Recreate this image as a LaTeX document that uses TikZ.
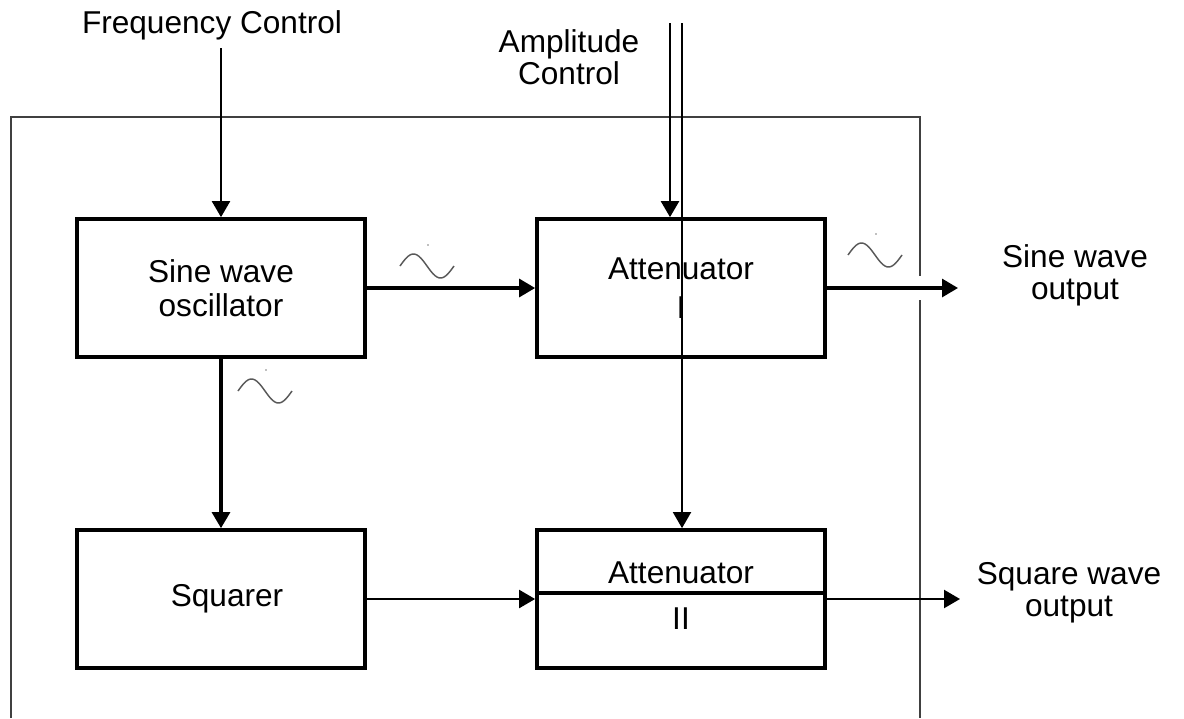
\documentclass[tikz,border=0pt]{standalone}
\usepackage{fontspec}
\setmainfont{Liberation Sans}
\usetikzlibrary{arrows.meta}
\tikzset{
  blk/.style={draw,line width=2.8pt,minimum width=216pt,minimum height=103.5pt,align=center,font=\fontsize{23.7}{25.5}\selectfont},
  lbl/.style={align=center,font=\fontsize{23.7}{24}\selectfont},
  arr/.style={line width=2.3pt,-{Triangle[length=12pt,width=13.5pt]}},
  tarr/.style={line width=1.4pt,-{Triangle[length=12pt,width=13.5pt]}},
  frm/.style={line width=1.8pt,black!75},
  sinewave/.pic={\draw[gray!70!black,line width=1.1pt] plot[domain=0:360,samples=40] (\x/360*54-27,{-12*sin(\x)}); \fill[gray] (1,-21) circle (.8);}
}
\begin{document}
\begin{tikzpicture}[x=.75pt,y=-.75pt]
\useasboundingbox (0,0) rectangle (1184,718);
\draw[frm] (11,718)--(11,117)--(920,117)--(920,276); \draw[frm] (920,300)--(920,718);
\node[blk] (osc) at (221,288) {Sine wave\\oscillator};
\node[blk,font=\fontsize{23.7}{29}\selectfont] (att1) at (681,288) {Attenuator\\I};
\node[blk] (sq) at (221,599) {\hspace*{9pt}Squarer};
\node[blk] (att2) at (681,599) {};
\draw[line width=2.8pt] ([yshift=4.5pt]att2.west)--([yshift=4.5pt]att2.east);
\node[lbl] (att2a) at (681,573) {Attenuator}; \node[lbl] (att2b) at (681,619) {II};
\node[lbl] (freq) at (212,25) {Frequency Control};
\node[lbl] (amp) at (569,57) {Amplitude\\Control};
\coordinate (fin) at (221,48); \coordinate (ampA) at (670,23); \coordinate (ampB) at (682,23);
\draw[tarr,line width=1.7pt] (fin)--(osc.north);
\draw[tarr,line width=1.8pt] (ampA)--(ampA |- att1.north);
\draw[tarr] (ampB)--(ampB |- att2.north);
\draw[arr] (osc.east)--(att1.west);
\draw[arr] (osc.south)--(sq.north);
\draw[tarr,line width=1.7pt] (sq.east)--(att2.west);
\coordinate (sout) at (958,288); \coordinate (qout) at (960,599);
\draw[arr] (att1.east)--(sout); \draw[tarr,line width=1.7pt] (att2.east)--(qout);
\node[lbl] (sinelbl) at (1075,275) {Sine wave\\output};
\node[lbl] (sqlbl) at (1069,593) {Square wave\\output};
\pic at (427,266) {sinewave}; \pic at (265,391) {sinewave}; \pic at (875,255) {sinewave};
\end{tikzpicture}
\end{document}
